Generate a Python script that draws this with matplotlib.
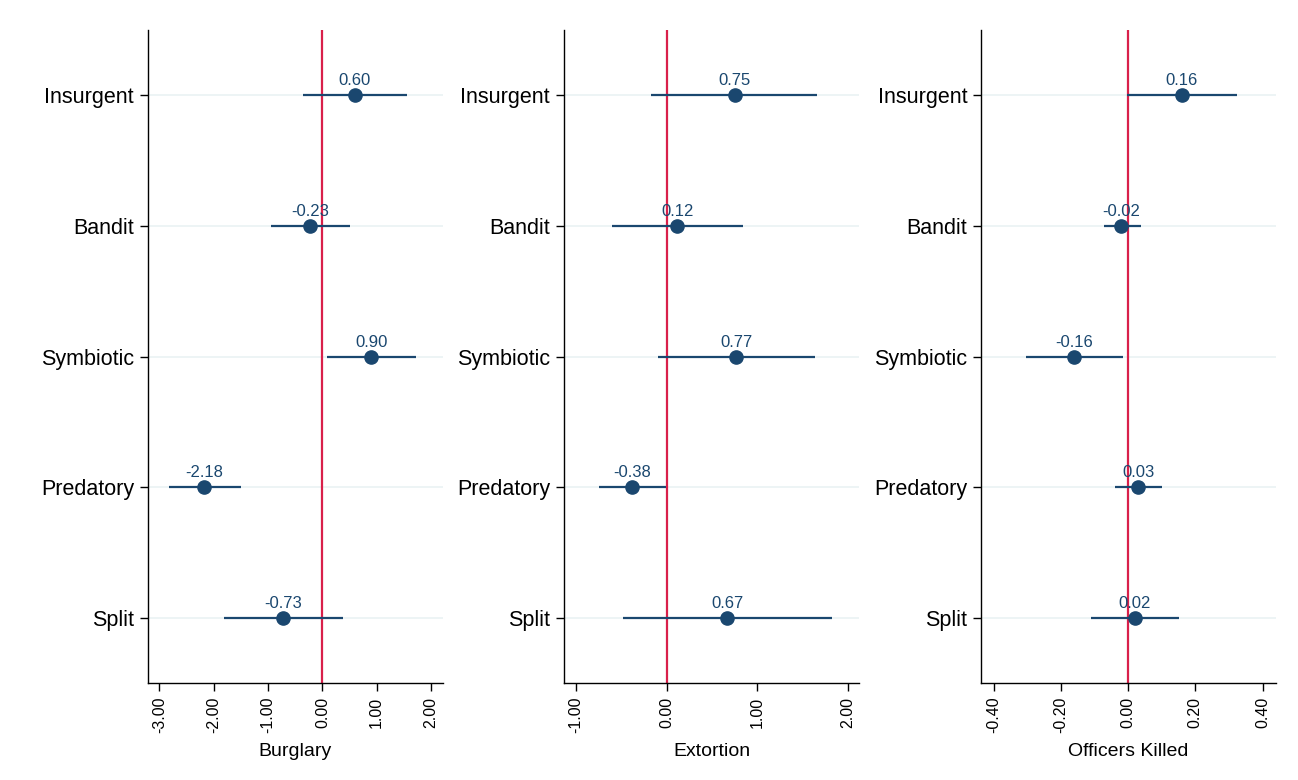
import matplotlib
matplotlib.use('Agg')
import matplotlib.pyplot as plt
from matplotlib.ticker import FormatStrFormatter
import numpy as np

plt.rcParams['font.family'] = ['Liberation Sans', 'DejaVu Sans']
plt.rcParams['axes.unicode_minus'] = False

# Data
groups = ['Insurgent', 'Bandit', 'Symbiotic', 'Predatory', 'Split']

outcomes = ['Burglary', 'Extortion', 'Officers Killed']

burglary_est = [0.60, -0.23, 0.90, -2.18, -0.73]
burglary_lo = [-0.35, -0.95, 0.08, -2.82, -1.81]
burglary_hi = [1.55, 0.50, 1.73, -1.49, 0.38]

extortion_est = [0.75, 0.12, 0.77, -0.38, 0.67]
extortion_lo = [-0.17, -0.60, -0.09, -0.74, -0.48]
extortion_hi = [1.66, 0.84, 1.63, -0.01, 1.82]

killed_est = [0.16, -0.02, -0.16, 0.03, 0.02]
killed_lo = [-0.003, -0.073, -0.303, -0.038, -0.109]
killed_hi = [0.324, 0.039, -0.015, 0.101, 0.151]

xticks_burglary = [-3, -2, -1, 0, 1, 2]
xticks_extortion = [-1, 0, 1, 2]
xticks_killed = [-0.4, -0.2, 0, 0.2, 0.4]

panels = [
    (burglary_est, burglary_lo, burglary_hi, xticks_burglary, (-3.21, 2.22)),
    (extortion_est, extortion_lo, extortion_hi, xticks_extortion, (-1.13, 2.12)),
    (killed_est, killed_lo, killed_hi, xticks_killed, (-0.4375, 0.44)),
]

navy = '#1a476f'
red = '#d9204a'
grid_c = '#eaf2f3'

fig = plt.figure(figsize=(12.98, 7.8), dpi=100)
lefts = [0.114, 0.4345, 0.7558]
width = 0.2273
bottom = 0.1244
height = 0.837

ypos = np.arange(1, len(groups) + 1)

for i, (est, lo, hi, xt, xl) in enumerate(panels):
    ax = fig.add_axes([lefts[i], bottom, width, height])
    for y in ypos:
        ax.axhline(y, color=grid_c, lw=1.2, zorder=0)
    ax.axvline(0, color=red, lw=1.6, zorder=1)
    ax.hlines(ypos, lo, hi, color=navy, lw=1.6, zorder=2)
    ax.plot(est, ypos, 'o', color=navy, markersize=9.5, zorder=3)
    for x, y in zip(est, ypos):
        ax.annotate('%.2f' % x, (x, y), xytext=(0, 5), textcoords='offset points',
                    ha='center', va='bottom', fontsize=12, color=navy, zorder=4)
    ax.set_ylim(5.5, 0.5)
    ax.set_xlim(*xl)
    ax.set_yticks(ypos)
    ax.set_yticklabels(groups, fontsize=15.5)
    ax.set_xticks(xt)
    ax.xaxis.set_major_formatter(FormatStrFormatter('%.2f'))
    ax.tick_params(axis='x', labelrotation=90, labelsize=11.5, length=6, width=1, pad=4)
    ax.tick_params(axis='y', length=6, width=1, pad=4)
    ax.spines['top'].set_visible(False)
    ax.spines['right'].set_visible(False)
    ax.spines['left'].set_linewidth(1)
    ax.spines['bottom'].set_linewidth(1)
    ax.set_xlabel(outcomes[i], fontsize=14, labelpad=7)

fig.savefig('out.png', dpi=100)
